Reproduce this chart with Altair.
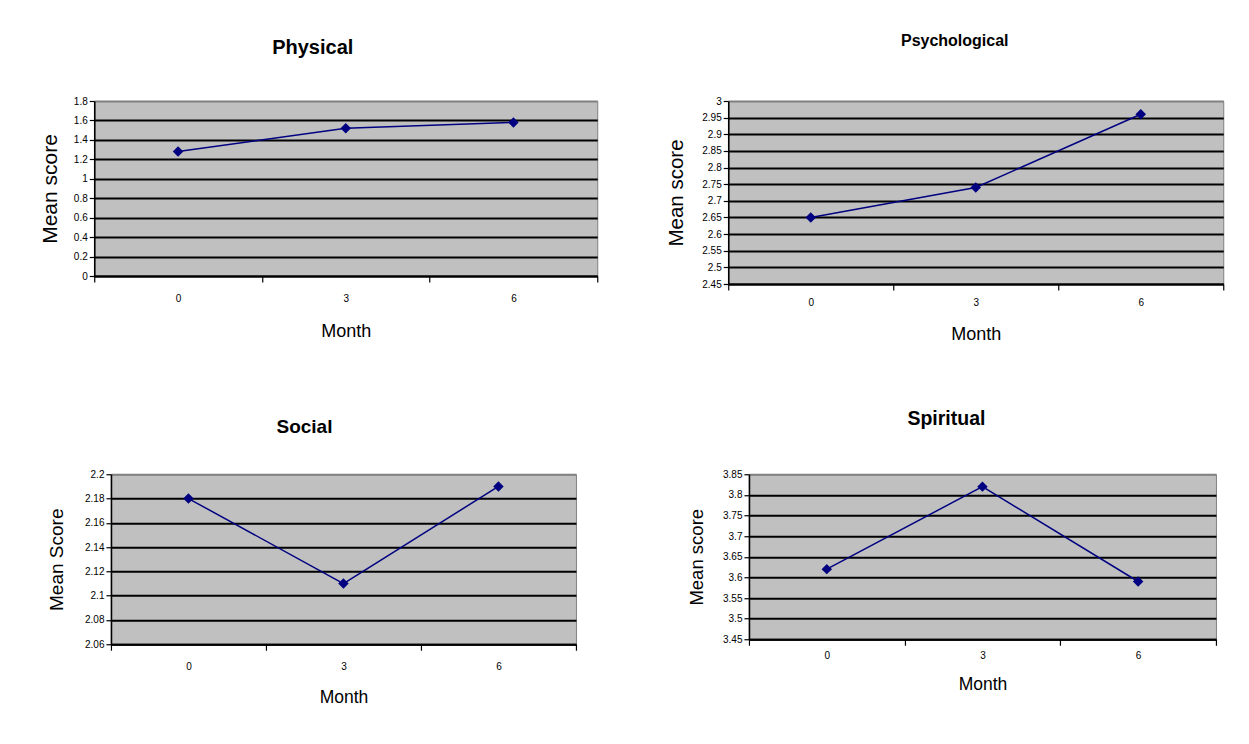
import altair as alt
import pandas as pd

months = [0, 3, 6]
physical = [1.28, 1.52, 1.58]
psychological = [2.65, 2.74, 2.96]
social = [2.18, 2.11, 2.19]
spiritual = [3.62, 3.82, 3.59]

physical_ticks = [0, 0.2, 0.4, 0.6, 0.8, 1, 1.2, 1.4, 1.6, 1.8]
psych_ticks = [2.45, 2.5, 2.55, 2.6, 2.65, 2.7, 2.75, 2.8, 2.85, 2.9, 2.95, 3]
social_ticks = [2.06, 2.08, 2.1, 2.12, 2.14, 2.16, 2.18, 2.2]
spiritual_ticks = [3.45, 3.5, 3.55, 3.6, 3.65, 3.7, 3.75, 3.8, 3.85]
month_bounds = [-1.5, 1.5, 4.5, 7.5]

FONT = "Liberation Sans"
NAVY = "#000080"


def panel(values, title, ytitle, yticks, width, height, title_size, title_offset,
          title_dx, ytitle_size, ytitle_pad, xtitle_size, xlabel_pad, xtitle_pad, edge_off=0):
    df = pd.DataFrame({"Month": months, "Score": values})
    top = yticks[-1]
    x = alt.X(
        "Month:Q",
        scale=alt.Scale(domain=[month_bounds[0], month_bounds[-1]], nice=False, zero=False),
        axis=alt.Axis(
            values=month_bounds,
            labelExpr="datum.value < 7 ? format(datum.value + 1.5, 'd') : ''",
            labelOffset={"condition": {"test": "datum.value > 7", "value": edge_off},
                         "value": width / 6},
            labelFlush=False,
            labelOverlap=False,
            title="Month",
            titleFontSize=xtitle_size,
            titlePadding=xtitle_pad,
            labelPadding=xlabel_pad,
            grid=False,
            tickSize=6,
            domainWidth=2,
        ),
    )
    y = alt.Y(
        "Score:Q",
        scale=alt.Scale(domain=[yticks[0], top], nice=False, zero=False),
        axis=alt.Axis(
            values=yticks,
            format="~f",
            title=ytitle,
            titleFontSize=ytitle_size,
            titlePadding=ytitle_pad,
            labelPadding=2,
            tickSize=5,
            grid=True,
            gridWidth=2,
            gridColor={"condition": {"test": f"datum.value >= {top} - 1e-9", "value": "#808080"},
                       "value": "black"},
            labelFlush=False,
            labelOverlap=False,
            domainWidth=1.6,
        ),
    )
    base = alt.Chart(df).encode(x=x, y=y)
    line = base.mark_line(color=NAVY, strokeWidth=1.5)
    pts = base.mark_point(shape="diamond", filled=True, size=110, color=NAVY, opacity=1)
    return alt.layer(line, pts).properties(
        width=width,
        height=height,
        title=alt.TitleParams(
            text=title, fontSize=title_size, font=FONT, fontWeight="bold", anchor="middle",
            frame="group", dx=title_dx, offset=title_offset, color="black",
        ),
    )


p1 = panel(physical, "Physical", "Mean score", physical_ticks, 503, 175, 20, 38.5, -33, 21, 12.5, 18, 11.5, 19)
p2 = panel(psychological, "Psychological", "Mean score", psych_ticks, 495, 183, 16, 47, -21, 20.5, 15.5, 18, 7, 18, edge_off=10)
p3 = panel(social, "Social", "Mean Score", social_ticks, 465, 170, 19, 32.5, -39, 19, 18, 17.5, 11.5, 16.5)
p4 = panel(spiritual, "Spiritual", "Mean score", spiritual_ticks, 467, 165, 19.5, 40, -36, 18.5, 16, 17.5, 5.5, 15)

row1 = alt.concat(p1, p2, columns=2, align="none", spacing=66)
row2 = alt.concat(p3, p4, columns=2, align="none", spacing=109)

chart = alt.vconcat(row1, row2, spacing=64.25, center=True).properties(
    padding={"left": 31, "top": 24, "right": 0, "bottom": 0},
    background="white",
).configure_view(
    fill="#C0C0C0", stroke="#808080", strokeWidth=1
).configure_axis(
    domainColor="black", tickColor="black", labelColor="black", labelFont=FONT,
    labelFontSize=10, titleFont=FONT, titleFontWeight="normal", titleColor="black",
    tickWidth=1.2,
)

chart.save("out.html", embed_options={"renderer": "svg", "actions": False})
